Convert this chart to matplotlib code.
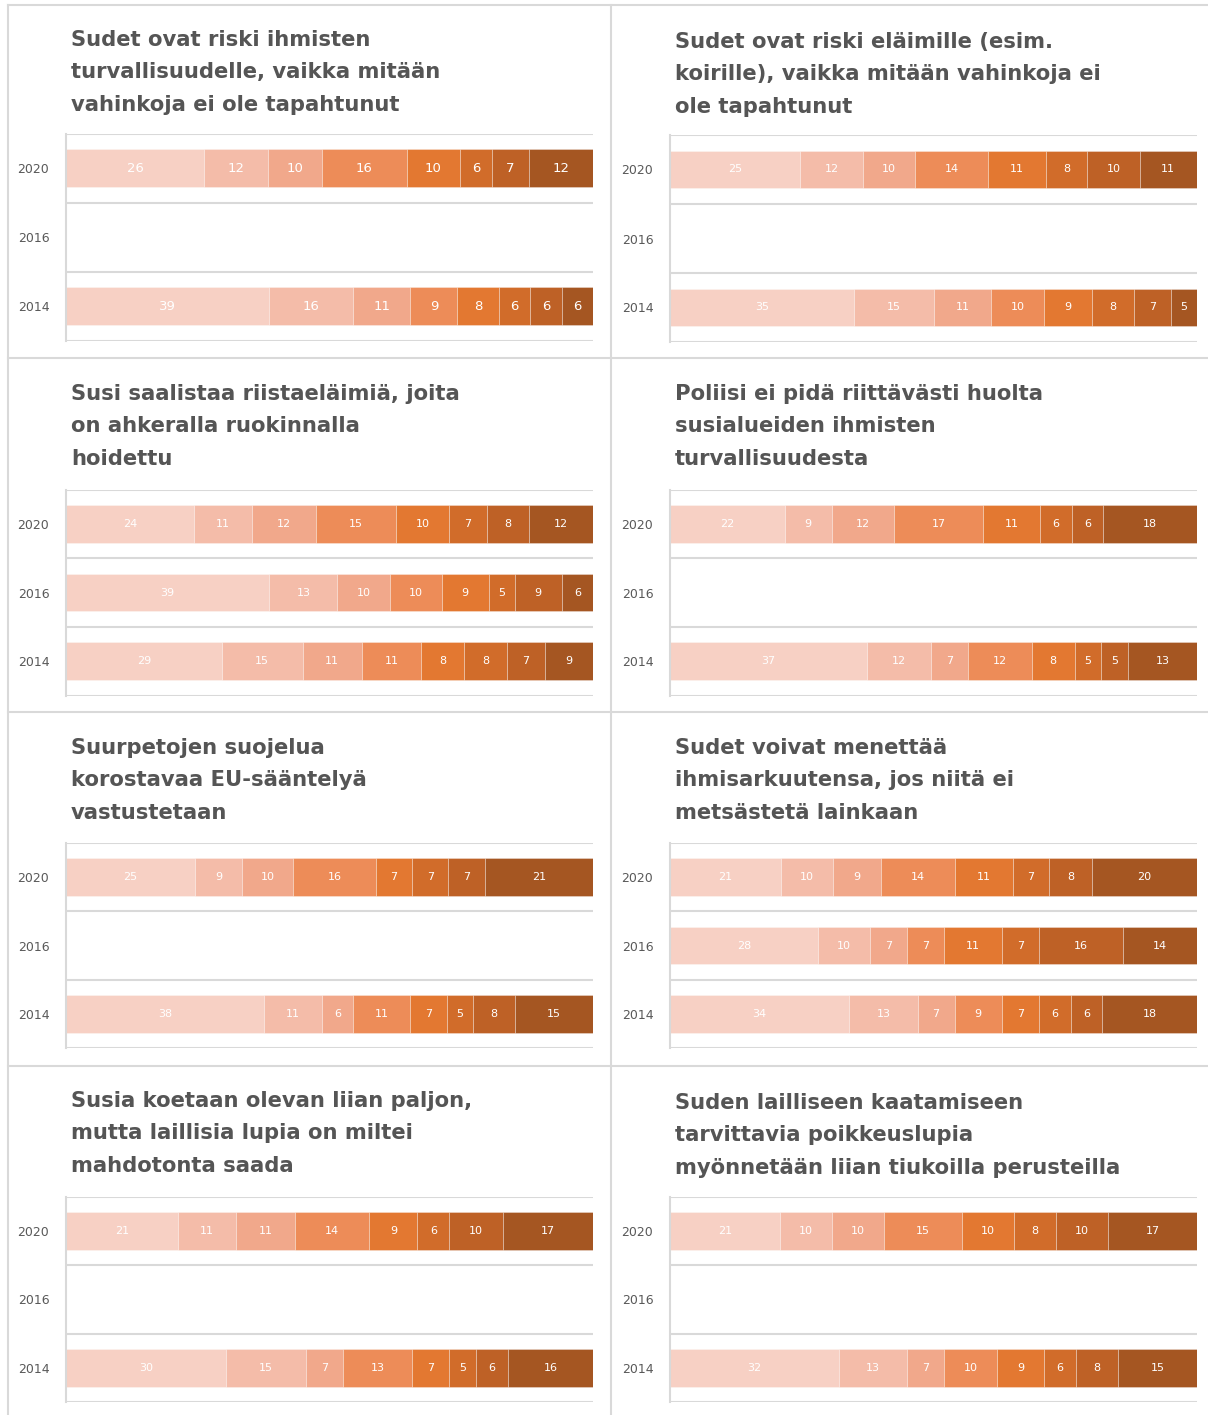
import matplotlib
matplotlib.use("Agg")
import matplotlib.pyplot as plt
from matplotlib.lines import Line2D
import numpy as np

W, H = 1208, 1415
years = ["2020", "2016", "2014"]
colors = ["#F7D0C4", "#F4BCA9", "#F1A88B", "#ED8C58", "#E37831", "#D16C2A", "#BE6126", "#A55622"]

titles = [
    ["Sudet ovat riski ihmisten", "turvallisuudelle, vaikka mitään", "vahinkoja ei ole tapahtunut"],
    ["Sudet ovat riski eläimille (esim.", "koirille), vaikka mitään vahinkoja ei", "ole tapahtunut"],
    ["Susi saalistaa riistaeläimiä, joita", "on ahkeralla ruokinnalla", "hoidettu"],
    ["Poliisi ei pidä riittävästi huolta", "susialueiden ihmisten", "turvallisuudesta"],
    ["Suurpetojen suojelua", "korostavaa EU-sääntelyä", "vastustetaan"],
    ["Sudet voivat menettää", "ihmisarkuutensa, jos niitä ei", "metsästetä lainkaan"],
    ["Susia koetaan olevan liian paljon,", "mutta laillisia lupia on miltei", "mahdotonta saada"],
    ["Suden lailliseen kaatamiseen", "tarvittavia poikkeuslupia", "myönnetään liian tiukoilla perusteilla"],
]

p1_2020 = [26, 12, 10, 16, 10, 6, 7, 12]
p1_2016 = None
p1_2014 = [39, 16, 11, 9, 8, 6, 6, 6]

p2_2020 = [25, 12, 10, 14, 11, 8, 10, 11]
p2_2016 = None
p2_2014 = [35, 15, 11, 10, 9, 8, 7, 5]

p3_2020 = [24, 11, 12, 15, 10, 7, 8, 12]
p3_2016 = [39, 13, 10, 10, 9, 5, 9, 6]
p3_2014 = [29, 15, 11, 11, 8, 8, 7, 9]

p4_2020 = [22, 9, 12, 17, 11, 6, 6, 18]
p4_2016 = None
p4_2014 = [37, 12, 7, 12, 8, 5, 5, 13]

p5_2020 = [25, 9, 10, 16, 7, 7, 7, 21]
p5_2016 = None
p5_2014 = [38, 11, 6, 11, 7, 5, 8, 15]

p6_2020 = [21, 10, 9, 14, 11, 7, 8, 20]
p6_2016 = [28, 10, 7, 7, 11, 7, 16, 14]
p6_2014 = [34, 13, 7, 9, 7, 6, 6, 18]

p7_2020 = [21, 11, 11, 14, 9, 6, 10, 17]
p7_2016 = None
p7_2014 = [30, 15, 7, 13, 7, 5, 6, 16]

p8_2020 = [21, 10, 10, 15, 10, 8, 10, 17]
p8_2016 = None
p8_2014 = [32, 13, 7, 10, 9, 6, 8, 15]

panels = [
    [p1_2020, p1_2016, p1_2014],
    [p2_2020, p2_2016, p2_2014],
    [p3_2020, p3_2016, p3_2014],
    [p4_2020, p4_2016, p4_2014],
    [p5_2020, p5_2016, p5_2014],
    [p6_2020, p6_2016, p6_2014],
    [p7_2020, p7_2016, p7_2014],
    [p8_2020, p8_2016, p8_2014],
]

fig = plt.figure(figsize=(W / 100, H / 100), dpi=100)
fig.patch.set_facecolor("white")

GRID = "#D9D9D9"

def fx(px):
    return px / W

def fy(py):
    return 1 - py / H

# panel border lines
for x in [8, 611]:
    fig.add_artist(Line2D([fx(x), fx(x)], [fy(5), fy(H)], color=GRID, lw=1.5))
for y in [5, 358, 712, 1066]:
    fig.add_artist(Line2D([fx(8), fx(W)], [fy(y), fy(y)], color=GRID, lw=1.5))

col_x = [(66, 593), (670, 1197)]
row_y = [(133.5, 340.5), (489.5, 695.5), (843, 1048), (1197, 1402)]
title_base = [46, 400, 754, 1107]
title_x = [71, 675]

for i, data in enumerate(panels):
    r, c = divmod(i, 2)
    x0, x1 = col_x[c]
    y0, y1 = row_y[r]
    if r == 0 and c == 1:
        y0 += 1.5
        y1 += 1.5
    ax = fig.add_axes([fx(x0), fy(y1), fx(x1) - fx(x0), (y1 - y0) / H])
    ax.set_xlim(0, 100)
    ax.set_ylim(2.5, -0.5)
    lblsize = 9.5 if i == 0 else 8
    for yi, vals in enumerate(data):
        if vals is None:
            continue
        v = np.array(vals, dtype=float)
        pct = v / v.sum() * 100
        left = 0.0
        for k, (p, raw) in enumerate(zip(pct, vals)):
            ax.barh(yi, p, left=left, height=0.55, color=colors[k],
                    edgecolor=(1, 1, 1, 0.35), linewidth=0.6)
            ax.text(left + p / 2, yi, str(raw), ha="center", va="center",
                    color="white", fontsize=lblsize, family="DejaVu Sans")
            left += p
    for b in [-0.5, 0.5, 1.5, 2.5]:
        ax.axhline(b, color=GRID, lw=1.5, zorder=0)
    for s in ["top", "right", "bottom"]:
        ax.spines[s].set_visible(False)
    ax.spines["left"].set_color(GRID)
    ax.spines["left"].set_linewidth(1.5)
    ax.set_xticks([])
    ax.set_yticks(range(3))
    ax.set_yticklabels(years, fontsize=9, color="#595959", family="DejaVu Sans")
    ax.tick_params(axis="y", length=0, pad=12)

    tb = title_base[r] + (2 if (c == 1 and r in (0, 3)) else 0)
    for li, line in enumerate(titles[i]):
        fig.text(fx(title_x[c]), fy(tb + li * 32.3), line, ha="left", va="baseline",
                 fontsize=15.2, fontweight="bold", color="#555555", family="DejaVu Sans")

fig.savefig("out.png", dpi=100, facecolor="white")
